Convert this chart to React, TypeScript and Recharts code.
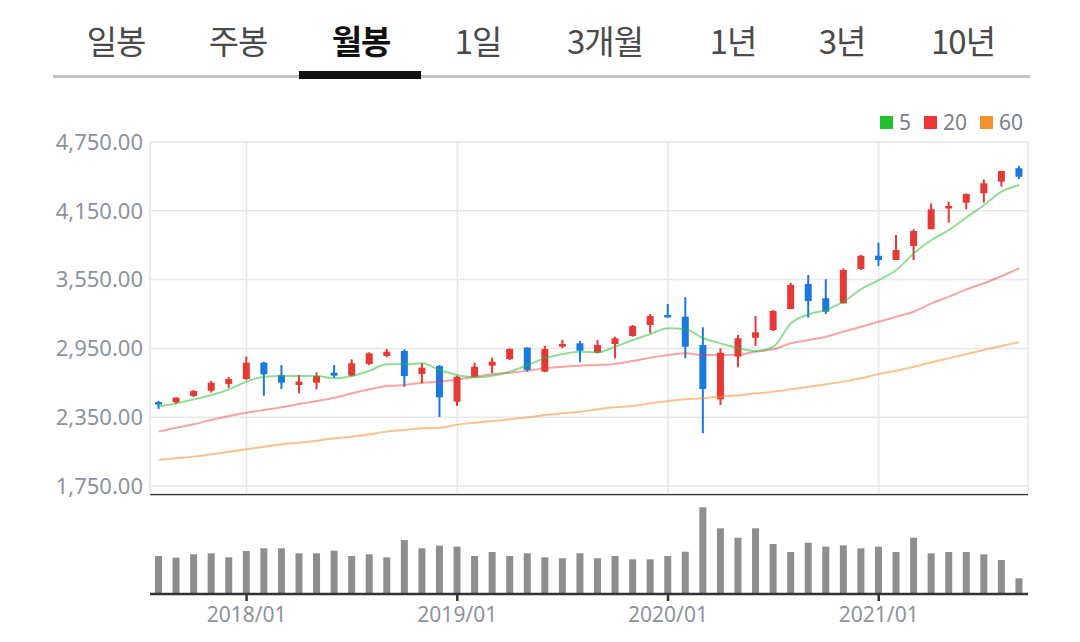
import React from 'react';
import { ComposedChart, BarChart, Bar, Line, XAxis, YAxis, CartesianGrid, ReferenceLine } from 'recharts';

const months = [
  '2017/08','2017/09','2017/10','2017/11','2017/12',
  '2018/01','2018/02','2018/03','2018/04','2018/05','2018/06','2018/07','2018/08','2018/09','2018/10','2018/11','2018/12',
  '2019/01','2019/02','2019/03','2019/04','2019/05','2019/06','2019/07','2019/08','2019/09','2019/10','2019/11','2019/12',
  '2020/01','2020/02','2020/03','2020/04','2020/05','2020/06','2020/07','2020/08','2020/09','2020/10','2020/11','2020/12',
  '2021/01','2021/02','2021/03','2021/04','2021/05','2021/06','2021/07','2021/08','2021/09',
];

const openV = [2482,2480,2535,2581,2640,2683,2825,2718,2631,2651,2738,2712,2814,2884,2927,2727,2796,2485,2703,2799,2857,2956,2747,2965,2994,2912,2988,3058,3154,3241,3226,2980,2506,2878,3043,3110,3293,3512,3387,3343,3642,3758,3721,3843,3989,4172,4221,4303,4404,4521];
const closeV = [2465,2520,2578,2651,2683,2825,2724,2651,2660,2709,2712,2820,2907,2921,2709,2782,2523,2703,2790,2834,2945,2762,2945,2988,2930,2980,3038,3145,3232,3226,2965,2596,2912,3038,3090,3276,3503,3363,3270,3634,3758,3721,3808,3974,4163,4192,4296,4390,4497,4447];
const highV = [2491,2524,2587,2666,2701,2878,2834,2805,2718,2742,2805,2855,2916,2945,2942,2820,2805,2712,2825,2869,2950,2960,2973,3023,3015,3023,3052,3154,3250,3337,3396,3134,2951,3067,3232,3285,3523,3590,3553,3648,3765,3872,3939,3989,4215,4229,4303,4425,4497,4541];
const lowV = [2422,2465,2526,2564,2605,2675,2537,2596,2558,2593,2695,2705,2803,2872,2616,2646,2352,2448,2695,2733,2849,2747,2742,2951,2829,2907,2864,3052,3082,3221,2864,2210,2456,2785,2971,3102,3293,3218,3250,3343,3634,3669,3721,3721,3989,4046,4163,4221,4360,4427];

const ma5 = [2442,2471,2506,2544,2593,2660,2703,2709,2709,2709,2689,2709,2755,2811,2811,2820,2762,2718,2698,2712,2747,2805,2864,2901,2921,2916,2965,3023,3076,3125,3117,3038,2994,2951,2927,2965,3169,3247,3285,3357,3468,3546,3634,3779,3895,3983,4093,4201,4317,4375];
const ma20 = [2224,2258,2288,2326,2360,2389,2413,2436,2465,2491,2520,2558,2593,2622,2631,2651,2660,2679,2703,2724,2738,2755,2776,2790,2799,2805,2814,2840,2869,2892,2907,2892,2892,2895,2921,2942,2994,3023,3052,3096,3139,3183,3226,3270,3343,3401,3465,3518,3581,3649];
const ma60 = [1977,1992,2006,2026,2049,2070,2093,2114,2128,2145,2166,2180,2201,2224,2238,2253,2258,2285,2302,2317,2332,2349,2369,2384,2398,2419,2436,2448,2471,2491,2506,2515,2529,2541,2558,2572,2593,2616,2637,2660,2689,2727,2755,2790,2829,2864,2901,2936,2971,3003];

const volume = [380,363,397,407,367,430,457,457,407,407,433,380,397,367,540,457,483,473,380,420,380,407,367,357,407,357,380,347,347,380,423,867,657,563,657,500,420,513,473,487,457,473,420,563,407,420,420,397,340,157];

const priceTicks = [1750, 2350, 2950, 3550, 4150, 4750];
const priceDomain = [1680, 4750];
const volDomain = [0, 1000];
const yearTicks = ['2018/01', '2019/01', '2020/01', '2021/01'];

const tabs = ['일봉', '주봉', '월봉', '1일', '3개월', '1년', '3년', '10년'];
const tabCenters = [116, 238, 361, 478, 605, 733, 842, 963];
const activeTab = 2;

const maNames = ['5', '20', '60'];
const maColors = ['#22c02a', '#ec3838', '#f5902f'];

const UP = '#e53935';
const DOWN = '#1a78e0';

const data = months.map((m, i) => ({
  month: m,
  range: [lowV[i], highV[i]],
  open: openV[i],
  close: closeV[i],
  high: highV[i],
  low: lowV[i],
  ma5: ma5[i],
  ma20: ma20[i],
  ma60: ma60[i],
  volume: volume[i],
}));

const Candle = (props: any) => {
  const { x, y, width, height, payload } = props;
  if (!payload) return null;
  const top = Math.min(y, y + height);
  const h = Math.abs(height);
  const { open, close, high, low } = payload;
  const ratio = h / (high - low);
  const py = (v: number) => top + (high - v) * ratio;
  const up = close >= open;
  const color = up ? UP : DOWN;
  const cx = x + width / 2;
  const bTop = py(Math.max(open, close));
  const bBot = py(Math.min(open, close));
  return (
    <g>
      <line x1={cx} x2={cx} y1={py(high)} y2={py(low)} stroke={color} strokeWidth={2} />
      <rect x={x} y={bTop} width={width} height={Math.max(2.5, bBot - bTop)} fill={color} />
    </g>
  );
};

const fmt = (v: number) => v.toLocaleString('en-US', { minimumFractionDigits: 2, maximumFractionDigits: 2 });

export default function App() {
  const font = '"Noto Sans", "Open Sans", sans-serif';
  return (
    <div style={{ position: 'absolute', left: 0, top: 0, width: 1080, height: 642, background: '#fff', overflow: 'hidden', fontFamily: font }}>
      {tabs.map((t, i) => (
        <div key={t} style={{
          position: 'absolute', left: tabCenters[i] - 70, width: 140, top: 14, height: 52,
          textAlign: 'center', lineHeight: '52px', fontSize: 33,
          fontFamily: '"Noto Sans CJK KR", sans-serif',
          fontWeight: i === activeTab ? 700 : 400,
          color: i === activeTab ? '#111' : '#4a4a4a',
          letterSpacing: -1,
        }}>{t}</div>
      ))}
      <div style={{ position: 'absolute', left: 53, width: 977, top: 75, height: 3, background: '#c6c6c6' }} />
      <div style={{ position: 'absolute', left: 299, width: 122, top: 71, height: 8, background: '#111' }} />

      <div style={{ position: 'absolute', right: 57, top: 108, display: 'flex', alignItems: 'center', fontSize: 21, color: '#7a808a' }}>
        {maNames.map((n, i) => (
          <div key={n} style={{ display: 'flex', alignItems: 'center', marginLeft: i === 0 ? 0 : 13 }}>
            <span style={{ display: 'inline-block', width: 13, height: 13, background: maColors[i], marginRight: 6 }} />
            <span>{n}</span>
          </div>
        ))}
      </div>

      <div style={{ position: 'absolute', left: 0, top: 100 }}>
        <ComposedChart width={1080} height={410} data={data} margin={{ top: 42, right: 52, bottom: 16, left: 0 }}>
          <CartesianGrid stroke="#e6e7ea" strokeWidth={1.5} />
          <XAxis dataKey="month" hide ticks={yearTicks} interval={0} />
          <YAxis
            domain={priceDomain}
            ticks={priceTicks}
            interval={0}
            width={150}
            tickFormatter={fmt}
            axisLine={false}
            tickLine={false}
            tickSize={6}
            tickMargin={1}
            tick={{ fill: '#8d939d', fontSize: 22, fontFamily: font }}
            allowDataOverflow
          />
          <Line type="monotone" dataKey="ma60" stroke={maColors[2]} strokeOpacity={0.55} strokeWidth={2} dot={false} isAnimationActive={false} />
          <Line type="monotone" dataKey="ma20" stroke={maColors[1]} strokeOpacity={0.45} strokeWidth={2} dot={false} isAnimationActive={false} />
          <Line type="monotone" dataKey="ma5" stroke={maColors[0]} strokeOpacity={0.5} strokeWidth={2} dot={false} isAnimationActive={false} />
          <Bar dataKey="range" barSize={7} shape={<Candle />} isAnimationActive={false} />
        </ComposedChart>
      </div>

      <div style={{ position: 'absolute', left: 0, top: 494 }}>
        <BarChart width={1080} height={148} data={data} margin={{ top: 0, right: 52, bottom: 0, left: 150 }} barCategoryGap={0}>
          <XAxis
            dataKey="month"
            ticks={yearTicks}
            interval={0}
            height={48}
            axisLine={{ stroke: '#333', strokeWidth: 2.5 }}
            tickLine={{ stroke: '#333', strokeWidth: 2.5 }}
            tickSize={7}
            tickMargin={6}
            tick={{ fill: '#8d939d', fontSize: 21, fontFamily: font }}
          />
          <YAxis hide domain={volDomain} />
          <ReferenceLine y={volDomain[1]} stroke="#333" strokeWidth={2.5} />
          <Bar dataKey="volume" barSize={7} fill="#8e8e8e" isAnimationActive={false} />
        </BarChart>
      </div>
    </div>
  );
}
